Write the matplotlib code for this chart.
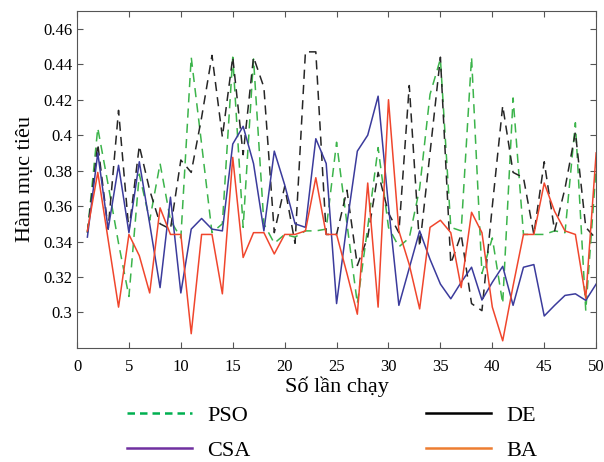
import numpy as np
import matplotlib.pyplot as plt
from matplotlib.lines import Line2D

plt.rcParams['font.family'] = ['Liberation Serif', 'DejaVu Serif']

runs = np.arange(1, 51)

pso = [0.345, 0.404, 0.372, 0.339, 0.309, 0.378, 0.352, 0.384, 0.352, 0.342,
       0.444, 0.395, 0.345, 0.350, 0.444, 0.348, 0.443, 0.350, 0.339, 0.344,
       0.3425, 0.346, 0.346, 0.347, 0.396, 0.350, 0.305, 0.348, 0.393, 0.348,
       0.337, 0.342, 0.370, 0.423, 0.443, 0.348, 0.346, 0.444, 0.322, 0.342,
       0.305, 0.421, 0.344, 0.344, 0.344, 0.346, 0.345, 0.407, 0.301, 0.382]

de = [0.345, 0.395, 0.347, 0.414, 0.346, 0.394, 0.369, 0.350, 0.347, 0.386,
      0.379, 0.410, 0.445, 0.399, 0.444, 0.389, 0.444, 0.427, 0.345, 0.371,
      0.339, 0.447, 0.447, 0.344, 0.344, 0.369, 0.3265, 0.3425, 0.379, 0.356,
      0.345, 0.428, 0.337, 0.390, 0.444, 0.3275, 0.344, 0.305, 0.301, 0.360,
      0.4166, 0.379, 0.376, 0.344, 0.385, 0.346, 0.370, 0.4016, 0.348, 0.3415]

csa = [0.3425, 0.390, 0.347, 0.383, 0.345, 0.385, 0.350, 0.314, 0.365, 0.311,
       0.347, 0.353, 0.347, 0.346, 0.395, 0.405, 0.384, 0.346, 0.391, 0.372,
       0.350, 0.348, 0.398, 0.384, 0.305, 0.350, 0.391, 0.400, 0.422, 0.360,
       0.304, 0.325, 0.346, 0.330, 0.316, 0.3077, 0.317, 0.3255, 0.307, 0.317,
       0.326, 0.304, 0.3255, 0.327, 0.298, 0.304, 0.3096, 0.3105, 0.3068, 0.316]

ba = [0.346, 0.379, 0.341, 0.303, 0.344, 0.332, 0.311, 0.359, 0.344, 0.344,
      0.288, 0.344, 0.344, 0.3105, 0.3875, 0.331, 0.345, 0.345, 0.333, 0.344,
      0.344, 0.346, 0.376, 0.344, 0.344, 0.322, 0.299, 0.373, 0.303, 0.420,
      0.346, 0.327, 0.302, 0.348, 0.352, 0.345, 0.314, 0.3565, 0.345, 0.303,
      0.284, 0.315, 0.344, 0.344, 0.373, 0.357, 0.346, 0.344, 0.308, 0.390]

yticks = [0.3, 0.32, 0.34, 0.36, 0.38, 0.4, 0.42, 0.44, 0.46]
ytick_labels = ['0.3', '0.32', '0.34', '0.36', '0.38', '0.4', '0.42', '0.44', '0.46']
xticks = list(range(0, 51, 5))

fig = plt.figure(figsize=(6.04, 4.62), dpi=100)
ax = fig.add_axes([0.1275, 0.247, 0.8595, 0.729])

ax.plot(runs, pso, color='#3cb44b', lw=1.1, dashes=(6, 4))
ax.plot(runs, de, color='#262626', lw=1.1, dashes=(6, 4))
ax.plot(runs, csa, color='#3b3b9c', lw=1.1)
ax.plot(runs, ba, color='#f0462d', lw=1.1)

ax.set_xlim(0, 50)
ax.set_ylim(0.28, 0.47)
ax.set_xticks(xticks)
ax.set_yticks(yticks)
ax.set_yticklabels(ytick_labels)
ax.tick_params(direction='in', top=True, right=True, labelsize=12, length=4, color='#555555')
ax.tick_params(axis='x', pad=8)
for s in ax.spines.values():
    s.set_color('#555555')

ax.set_xlabel('Số lần chạy', fontsize=16, labelpad=1)
ax.set_ylabel('Hàm mục tiêu', fontsize=16, labelpad=6)

handles = [Line2D([], [], color='#00b050', lw=1.8, dashes=(3, 2)),
           Line2D([], [], color='#7030a0', lw=1.8),
           Line2D([], [], color='black', lw=1.8),
           Line2D([], [], color='#ed7d31', lw=1.8)]
labels = ['PSO', 'CSA', 'DE', 'BA']
fig.legend(handles, labels, loc='center', bbox_to_anchor=(0.55, 0.062),
           ncol=2, frameon=False, fontsize=16, handlelength=2.9,
           handletextpad=0.7, columnspacing=7.9, labelspacing=0.65,
           borderaxespad=0, borderpad=0)

fig.savefig('out.png', dpi=100)
